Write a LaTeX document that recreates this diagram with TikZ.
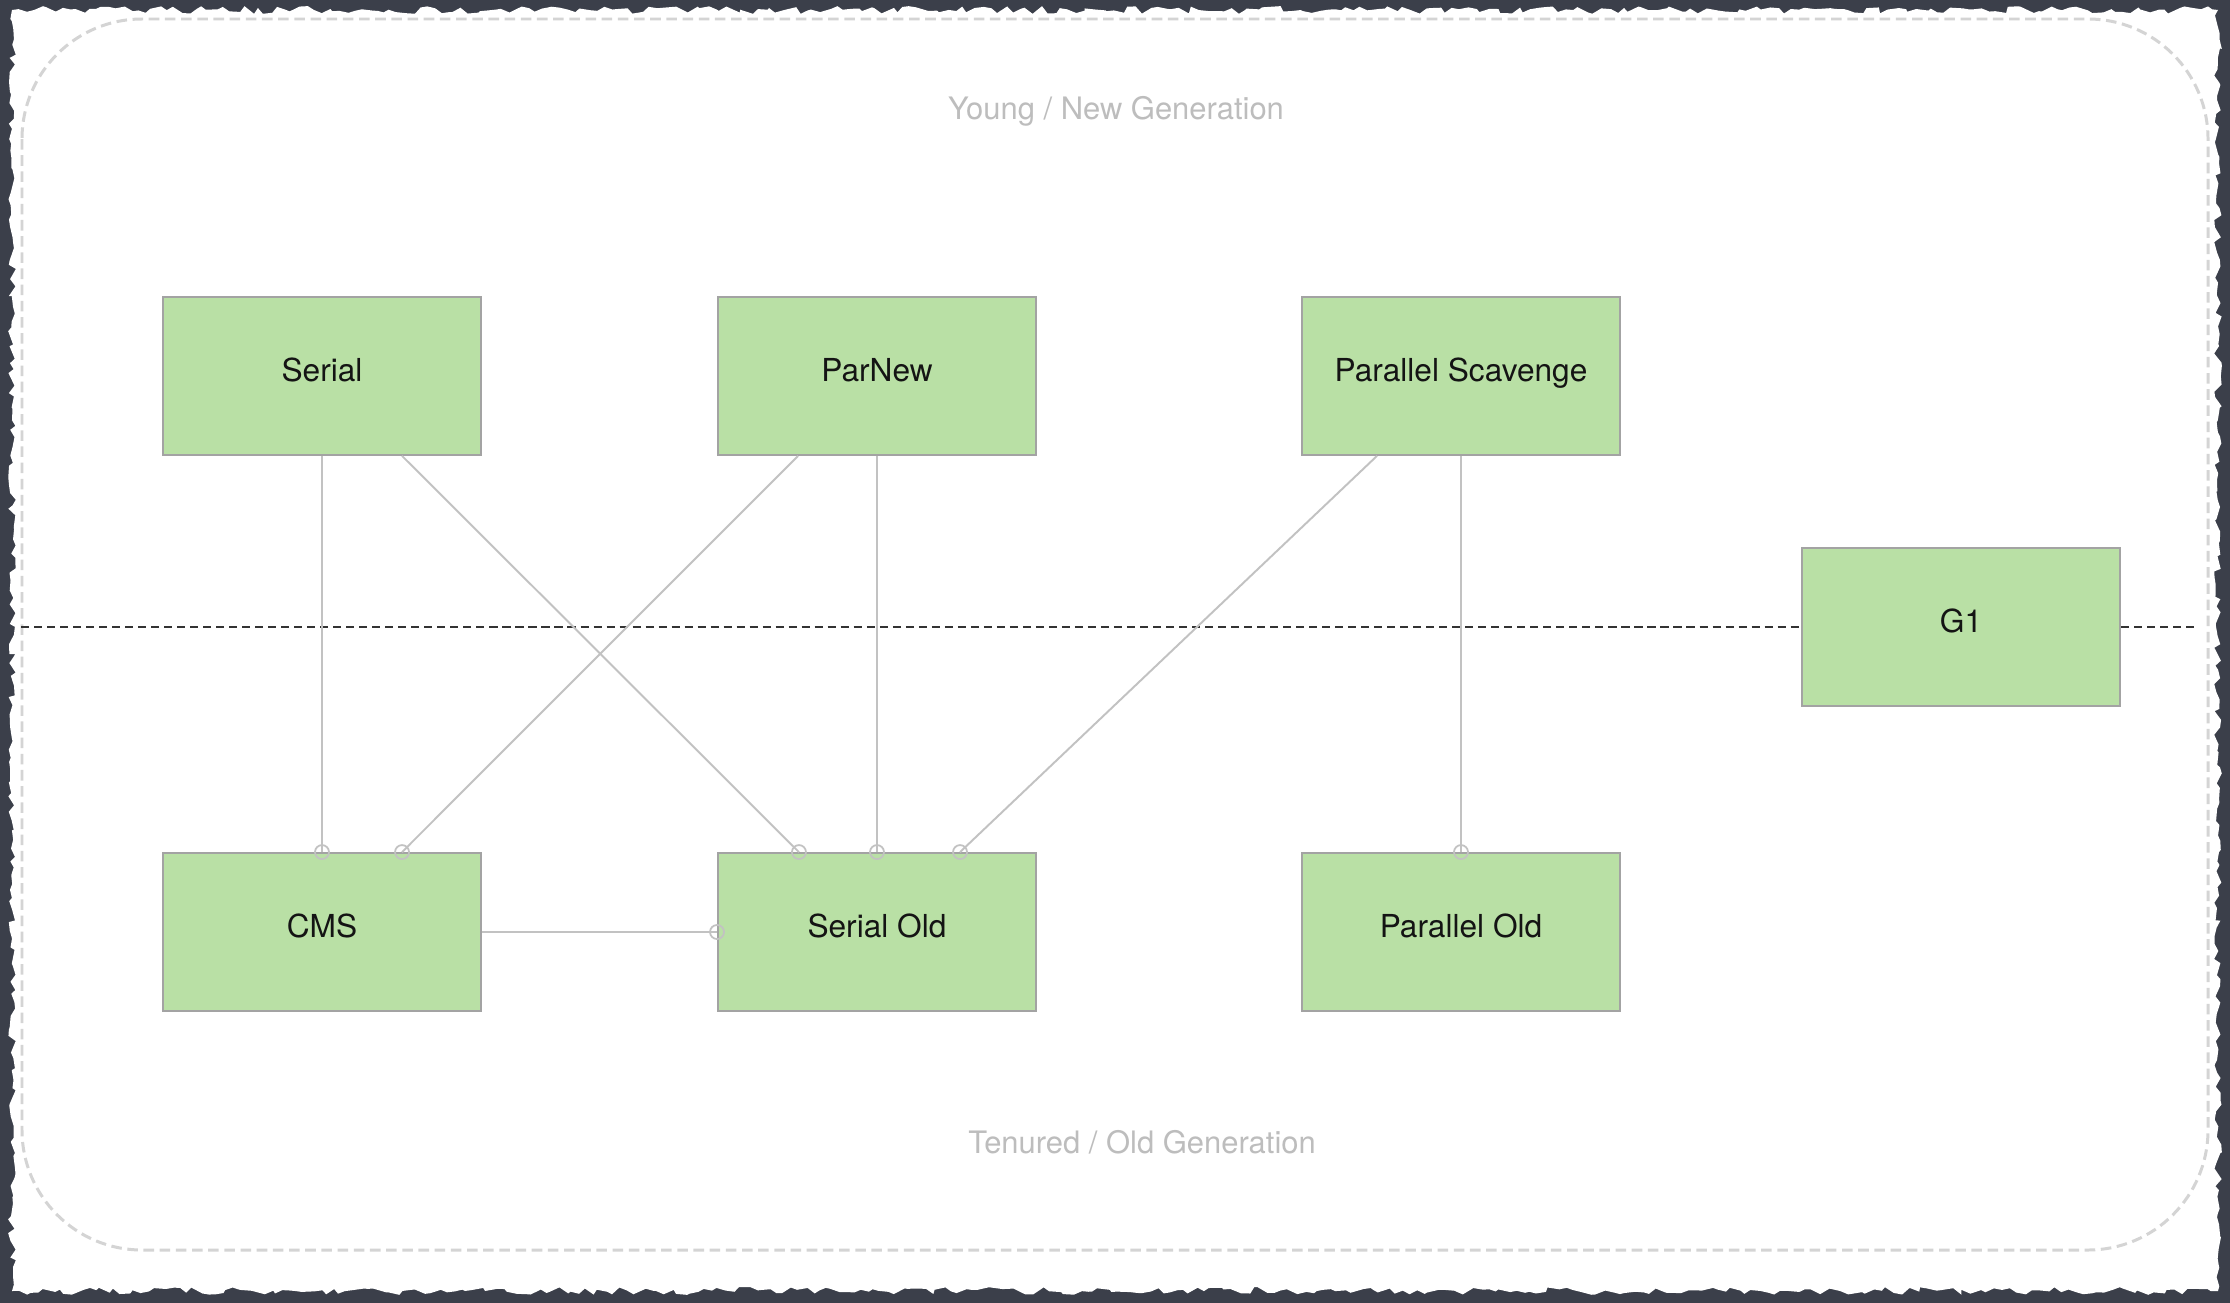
\documentclass[tikz,border=0pt]{standalone}
\usepackage{fontspec}
\setmainfont{TeX Gyre Heros}
\usetikzlibrary{decorations.pathmorphing}
\definecolor{boxgreen}{HTML}{B9E0A5}
\definecolor{boxline}{HTML}{A3A3A3}
\definecolor{conn}{HTML}{C2C2C2}
\definecolor{framecol}{HTML}{3B3F4A}
\definecolor{regioncol}{HTML}{D4D4D4}
\definecolor{gentext}{HTML}{BDBDBD}
\begin{document}
\begin{tikzpicture}[x=0.01cm,y=-0.01cm,
  gcbox/.style={draw=boxline,line width=0.5pt,fill=boxgreen,minimum width=3.18cm,
    minimum height=1.58cm,inner sep=0pt,text height=6.5pt,text depth=3.2pt,
    font=\fontsize{9}{11}\selectfont,text=black!92},
  link/.style={draw=conn,line width=0.55pt},
  endring/.style={circle,draw=conn,line width=0.5pt,minimum size=0.14cm,inner sep=0pt},
  divider/.style={draw=black!80,line width=0.55pt,dash pattern=on 2.3pt off 1.4pt},
  gentitle/.style={font=\fontsize{8.8}{10}\selectfont,text=gentext,inner sep=0pt}
]
\useasboundingbox (0,0) rectangle (2230,1303);
\fill[framecol] (0,0) rectangle (2230,1303);
\pgfmathsetseed{7}
\fill[white,decorate,decoration={random steps,segment length=2pt,amplitude=1.1pt}]
  (12,10) -- (2218,10) -- (2218,1291) -- (12,1291) -- cycle;

% region outline
\draw[regioncol,line width=0.85pt,dash pattern=on 3pt off 1.6pt,rounded corners=1.2cm]
  (22,19) rectangle (2208,1250);

\node[gentitle] (young) at (1116,111) {Young / New Generation};
\node[gentitle] (tenured) at (1142,1142) {Tenured / Old Generation};

% collectors
\node[gcbox] (serial) at (322,376) {Serial};
\node[gcbox] (parnew) at (877,376) {ParNew};
\node[gcbox] (ps) at (1461,376) {Parallel Scavenge};
\node[gcbox] (g1) at (1961,627) {G1};
\node[gcbox] (cms) at (322,932) {CMS};
\node[gcbox] (serialold) at (877,932) {Serial Old};
\node[gcbox] (parold) at (1461,932) {Parallel Old};

% divider
\coordinate (dl) at (21,627);
\coordinate (dr) at (2198,627);
\draw[divider] (dl) -- (g1.west);
\draw[divider] (g1.east) -- (dr);

% connectors
\draw[link] (serial.south) -- (cms.north);
\draw[link] ([xshift=0.8cm]serial.south) -- ([xshift=-0.78cm]serialold.north);
\draw[link] ([xshift=-0.79cm]parnew.south) -- ([xshift=0.8cm]cms.north);
\draw[link] (parnew.south) -- (serialold.north);
\draw[link] ([xshift=-0.84cm]ps.south) -- ([xshift=0.83cm]serialold.north);
\draw[link] (ps.south) -- (parold.north);
\draw[link] (cms.east) -- (serialold.west);

% end rings
\node[endring] (r1) at (cms.north) {};
\node[endring] (r2) at ([xshift=0.8cm]cms.north) {};
\node[endring] (r3) at ([xshift=-0.78cm]serialold.north) {};
\node[endring] (r4) at (serialold.north) {};
\node[endring] (r5) at ([xshift=0.83cm]serialold.north) {};
\node[endring] (r6) at (parold.north) {};
\node[endring] (r7) at (serialold.west) {};
\end{tikzpicture}
\end{document}
